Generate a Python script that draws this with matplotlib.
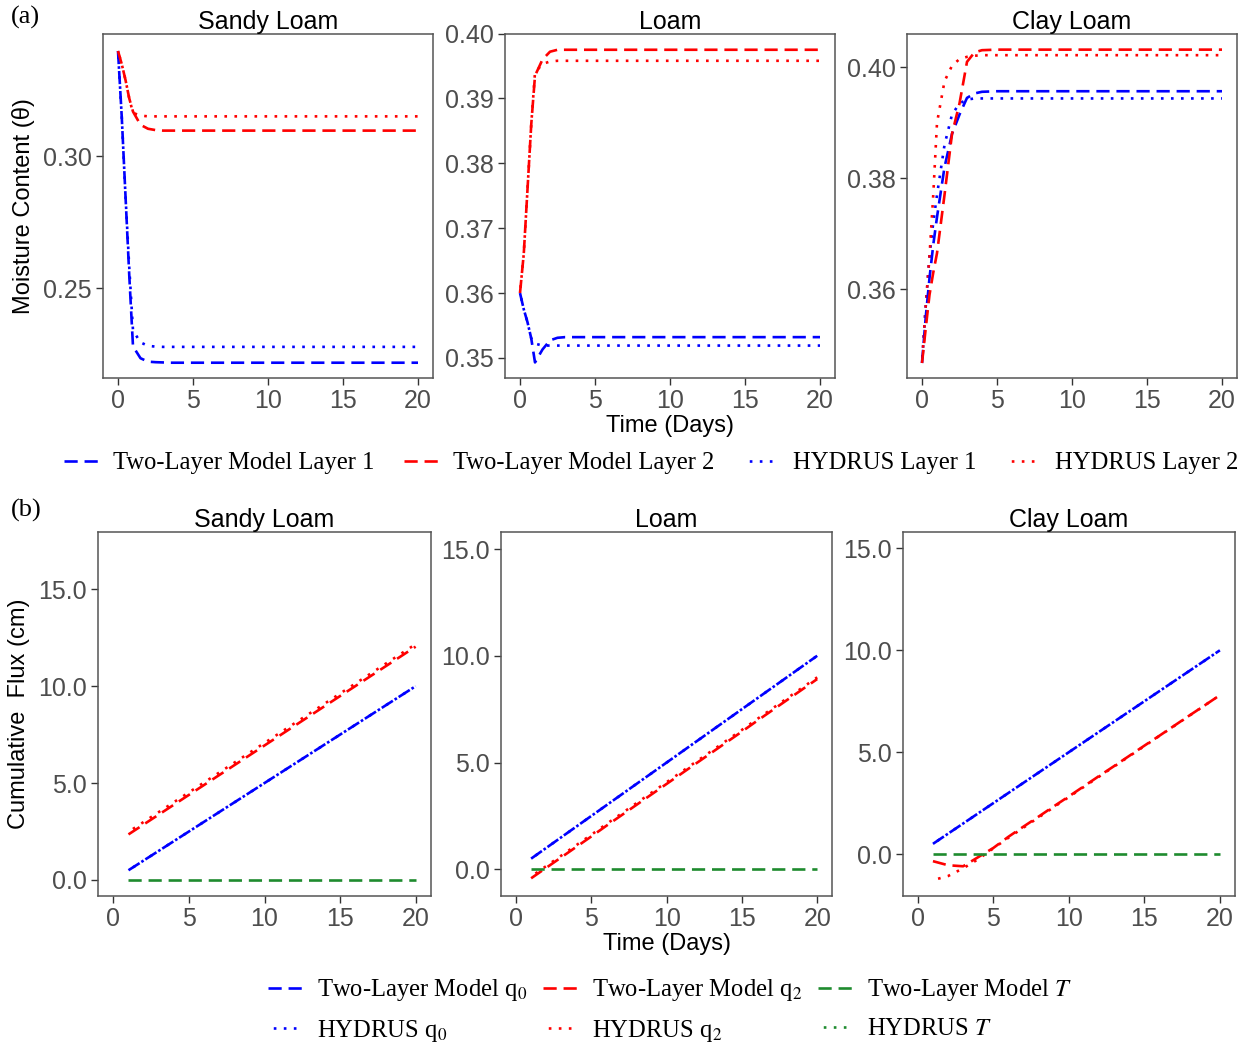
import matplotlib.pyplot as plt
from matplotlib.lines import Line2D

plt.rcParams['font.family'] = ['Liberation Sans', 'DejaVu Sans']
plt.rcParams['mathtext.fontset'] = 'stix'

soils = ["Sandy Loam", "Loam", "Clay Loam"]

# moisture content (theta) vs time in days
t_theta = [0, 0.25, 0.5, 0.75, 1, 1.5, 2, 2.5, 3, 3.5, 4, 5, 10, 15, 20]

sandy_tl_l1 = [0.340, 0.315, 0.285, 0.255, 0.228, 0.2235, 0.2222, 0.2220, 0.2219, 0.2218, 0.2218, 0.2218, 0.2218, 0.2218, 0.2218]
sandy_hy_l1 = [0.340, 0.315, 0.285, 0.258, 0.234, 0.2295, 0.2282, 0.2279, 0.2278, 0.2278, 0.2278, 0.2278, 0.2278, 0.2278, 0.2278]
sandy_tl_l2 = [0.340, 0.335, 0.329, 0.322, 0.317, 0.312, 0.3105, 0.3100, 0.3098, 0.3098, 0.3098, 0.3098, 0.3098, 0.3098, 0.3098]
sandy_hy_l2 = [0.340, 0.335, 0.329, 0.322, 0.3165, 0.3155, 0.3152, 0.3152, 0.3152, 0.3152, 0.3152, 0.3152, 0.3152, 0.3152, 0.3152]

loam_tl_l1 = [0.360, 0.3575, 0.3555, 0.353, 0.3493, 0.3513, 0.3527, 0.3531, 0.3532, 0.3532, 0.3532, 0.3532, 0.3532, 0.3532, 0.3532]
loam_hy_l1 = [0.360, 0.3575, 0.3555, 0.353, 0.3522, 0.3519, 0.3519, 0.3519, 0.3519, 0.3519, 0.3519, 0.3519, 0.3519, 0.3519, 0.3519]
loam_tl_l2 = [0.360, 0.366, 0.376, 0.386, 0.3935, 0.396, 0.3972, 0.3975, 0.3975, 0.3975, 0.3975, 0.3975, 0.3975, 0.3975, 0.3975]
loam_hy_l2 = [0.360, 0.366, 0.376, 0.386, 0.3940, 0.3953, 0.3957, 0.3958, 0.3958, 0.3958, 0.3958, 0.3958, 0.3958, 0.3958, 0.3958]

clay_tl_l1 = [0.3467, 0.355, 0.362, 0.368, 0.373, 0.382, 0.388, 0.3915, 0.3945, 0.3953, 0.3956, 0.3957, 0.3957, 0.3957, 0.3957]
clay_hy_l1 = [0.3467, 0.357, 0.366, 0.372, 0.377, 0.386, 0.3915, 0.3935, 0.3942, 0.3944, 0.3944, 0.3944, 0.3944, 0.3944, 0.3944]
clay_tl_l2 = [0.3467, 0.353, 0.359, 0.363, 0.3665, 0.377, 0.388, 0.3935, 0.4010, 0.4027, 0.4031, 0.4032, 0.4032, 0.4032, 0.4032]
clay_hy_l2 = [0.3467, 0.357, 0.366, 0.377, 0.390, 0.3975, 0.4003, 0.4015, 0.4019, 0.4021, 0.4022, 0.4022, 0.4022, 0.4022, 0.4022]

# cumulative flux (cm) vs time in days
t_flux = [1, 2, 3, 4, 5, 6, 7, 8, 9, 10, 11, 12, 13, 14, 15, 16, 17, 18, 19, 20]

q0_all = [0.5, 1.0, 1.5, 2.0, 2.5, 3.0, 3.5, 4.0, 4.5, 5.0, 5.5, 6.0, 6.5, 7.0, 7.5, 8.0, 8.5, 9.0, 9.5, 10.0]
t_zero = [0.0] * 20

sandy_tl_q2 = [2.35, 2.86, 3.37, 3.88, 4.39, 4.90, 5.41, 5.92, 6.43, 6.94, 7.45, 7.96, 8.47, 8.98, 9.49, 10.00, 10.51, 11.02, 11.53, 12.04]
sandy_hy_q2 = [2.48, 2.99, 3.50, 4.01, 4.52, 5.03, 5.54, 6.05, 6.56, 7.07, 7.58, 8.09, 8.60, 9.11, 9.62, 10.13, 10.64, 11.15, 11.66, 12.17]

loam_tl_q2 = [-0.42, 0.07, 0.56, 1.05, 1.54, 2.04, 2.53, 3.02, 3.51, 4.00, 4.49, 4.98, 5.47, 5.96, 6.45, 6.95, 7.44, 7.93, 8.42, 8.91]
loam_hy_q2 = [-0.34, 0.15, 0.64, 1.13, 1.62, 2.12, 2.61, 3.10, 3.59, 4.08, 4.57, 5.06, 5.55, 6.04, 6.53, 7.03, 7.52, 8.01, 8.50, 8.99]

clay_tl_q2 = [-0.35, -0.55, -0.60, -0.15, 0.30, 0.85, 1.35, 1.84, 2.34, 2.83, 3.33, 3.83, 4.32, 4.82, 5.32, 5.81, 6.31, 6.81, 7.30, 7.80]
clay_hy_q2 = [-1.28, -1.08, -0.70, -0.25, 0.28, 0.80, 1.30, 1.80, 2.30, 2.80, 3.30, 3.80, 4.30, 4.80, 5.30, 5.80, 6.30, 6.80, 7.30, 7.80]

theta_data = [
    (sandy_tl_l1, sandy_tl_l2, sandy_hy_l1, sandy_hy_l2),
    (loam_tl_l1, loam_tl_l2, loam_hy_l1, loam_hy_l2),
    (clay_tl_l1, clay_tl_l2, clay_hy_l1, clay_hy_l2),
]
flux_data = [
    (q0_all, sandy_tl_q2, q0_all, sandy_hy_q2),
    (q0_all, loam_tl_q2, q0_all, loam_hy_q2),
    (q0_all, clay_tl_q2, q0_all, clay_hy_q2),
]

theta_ylim = [(0.2160, 0.3466), (0.3469, 0.4000), (0.3440, 0.4061)]
theta_ticks = [[0.25, 0.30], [0.35, 0.36, 0.37, 0.38, 0.39, 0.40], [0.36, 0.38, 0.40]]
flux_ylim = [(-0.83, 17.94), (-1.25, 15.78), (-2.06, 15.79)]
flux_ticks = [0, 5, 10, 15]

BLUE, RED, GREEN = "#0000FF", "#FF0000", "#1E8B2E"
LW = 1.9
DASH = (0, (5, 2.6))
DOT = (1.8, (1, 2.8))   # offset so the dots land in the gaps of a matching dashed line
TICK_GREY = "#4D4D4D"

fig = plt.figure(figsize=(12.5, 10.55), dpi=100)

top_pos = [(0.0824, 0.6417, 0.264, 0.3265),
           (0.4040, 0.6417, 0.264, 0.3265),
           (0.7256, 0.6417, 0.264, 0.3265)]
bot_pos = [(0.0786, 0.1507, 0.2660, 0.3447),
           (0.4008, 0.1507, 0.2650, 0.3447),
           (0.7222, 0.1507, 0.2658, 0.3447)]


def style_axes(ax, title):
    ax.set_title(title, fontsize=18, pad=3)
    for sp in ax.spines.values():
        sp.set_color("#555555")
        sp.set_linewidth(1.1)
    ax.tick_params(length=5, width=1.0, color="#333333", labelsize=18,
                   labelcolor=TICK_GREY, pad=3)
    ax.set_xlim(-1, 21)
    ax.set_xticks([0, 5, 10, 15, 20])


for i, soil in enumerate(soils):
    ax = fig.add_axes(top_pos[i])
    tl1, tl2, hy1, hy2 = theta_data[i]
    ax.plot(t_theta, hy1, color=BLUE, lw=LW, ls=DOT)
    ax.plot(t_theta, hy2, color=RED, lw=LW, ls=DOT)
    ax.plot(t_theta, tl1, color=BLUE, lw=LW, ls=DASH)
    ax.plot(t_theta, tl2, color=RED, lw=LW, ls=DASH)
    style_axes(ax, soil)
    ax.set_ylim(*theta_ylim[i])
    ax.set_yticks(theta_ticks[i])
    ax.set_yticklabels(["{:.2f}".format(v) for v in theta_ticks[i]])
    if i == 0:
        ax.set_ylabel("Moisture Content (θ)", fontsize=17, labelpad=6)
    if i == 1:
        ax.set_xlabel("Time (Days)", fontsize=17, labelpad=1)

for i, soil in enumerate(soils):
    ax = fig.add_axes(bot_pos[i])
    tq0, tq2, hq0, hq2 = flux_data[i]
    ax.plot(t_flux, hq0, color=BLUE, lw=LW, ls=DOT)
    ax.plot(t_flux, hq2, color=RED, lw=LW, ls=DOT)
    ax.plot(t_flux, tq0, color=BLUE, lw=LW, ls=DASH)
    ax.plot(t_flux, tq2, color=RED, lw=LW, ls=DASH)
    ax.plot(t_flux, t_zero, color=GREEN, lw=LW, ls=DASH)
    style_axes(ax, soil)
    ax.set_ylim(*flux_ylim[i])
    ax.set_yticks(flux_ticks)
    ax.set_yticklabels(["{:.1f}".format(v) for v in flux_ticks])
    if i == 0:
        ax.set_ylabel("Cumulative  Flux (cm)", fontsize=17, labelpad=6)
    if i == 1:
        ax.set_xlabel("Time (Days)", fontsize=17, labelpad=1)

serif = {"family": "Liberation Serif", "size": 17.7}


def handle(color, ls):
    return Line2D([], [], color=color, lw=LW, ls=ls)


top_handles = [handle(BLUE, DASH), handle(RED, DASH), handle(BLUE, DOT), handle(RED, DOT)]
top_labels = ["Two-Layer Model Layer 1", "Two-Layer Model Layer 2",
              "HYDRUS Layer 1", "HYDRUS Layer 2"]
fig.legend(top_handles, top_labels, loc="center", bbox_to_anchor=(0.521, 0.561),
           ncol=4, frameon=False, prop=serif, handlelength=1.4,
           handletextpad=0.6, columnspacing=1.2)

bot_handles = [handle(BLUE, DASH), handle(BLUE, DOT), handle(RED, DASH),
               handle(RED, DOT), handle(GREEN, DASH), handle(GREEN, DOT)]
bot_labels = [r"Two-Layer Model q$_0$", r"HYDRUS q$_0$",
              r"Two-Layer Model q$_2$", r"HYDRUS q$_2$",
              r"Two-Layer Model $T$", r"HYDRUS $T$"]
fig.legend(bot_handles, bot_labels, loc="center", bbox_to_anchor=(0.536, 0.042),
           ncol=3, frameon=False, prop=serif, handlelength=1.4,
           handletextpad=0.6, columnspacing=0.65, labelspacing=0.6)

fig.text(0.009, 0.983, "(a)", fontsize=19, family="Liberation Serif", va="center")
fig.text(0.009, 0.516, "(b)", fontsize=19, family="Liberation Serif", va="center")

fig.savefig("out.png", dpi=100)
